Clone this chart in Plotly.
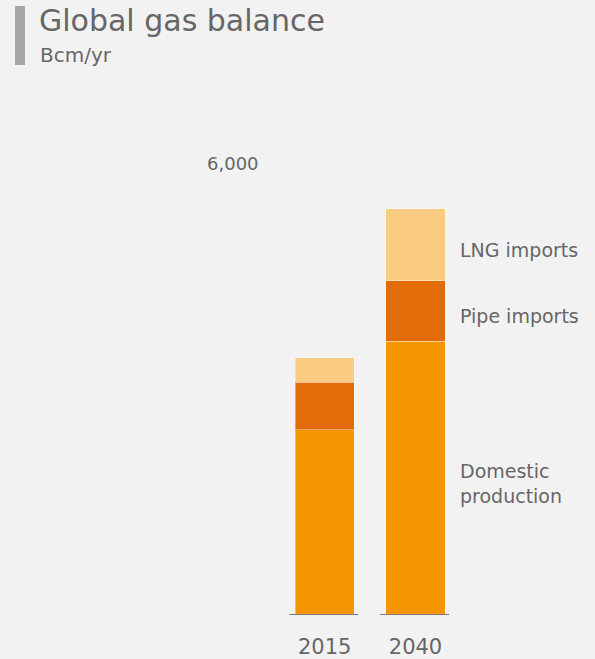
import plotly.graph_objects as go

# Global gas balance, Bcm/yr
years = ["2015", "2040"]
domestic_production = [2465, 3635]
pipe_imports = [629, 810]
lng_imports = [324, 957]
series_names = ["Domestic production", "Pipe imports", "LNG imports"]
series_labels = ["Domestic<br>production", "Pipe imports", "LNG imports"]
series_colors = ["#F59600", "#E36C0A", "#FACB82"]
y_tick_values = [6000]
y_tick_labels = ["6,000"]

W, H = 595, 659
TOP, BOTTOM = 100, 44
plot_h = H - TOP - BOTTOM
Y_MAX = plot_h / 0.07525
BG = "#F2F2F2"
TXT = "#666666"
FONT = "DejaVu Sans"

x_pos = list(range(len(years)))
x_unit = 90.8  # px per category
x0_px = 324.7
x_range = [-x0_px / x_unit, (W - x0_px) / x_unit]


def py(p):
    """pixel row -> paper y"""
    return (H - BOTTOM - p) / plot_h


fig = go.Figure()
values = [domestic_production, pipe_imports, lng_imports]
for name, vals, col in zip(series_names, values, series_colors):
    fig.add_trace(go.Bar(
        x=x_pos, y=vals, name=name, width=0.65,
        marker=dict(color=col, line=dict(color="rgba(255,255,255,0.35)", width=1)),
        hoverinfo="y+name",
    ))

# baseline segment under each bar
shapes = []
for xp in x_pos:
    shapes.append(dict(type="line", xref="x", yref="y", x0=xp - 0.39, x1=xp + 0.37,
                       y0=0, y1=0, line=dict(color="#7F7F7F", width=2)))
# title accent bar
shapes.append(dict(type="rect", xref="paper", yref="paper", x0=15 / W, x1=25 / W,
                   y0=py(65), y1=py(6), fillcolor="#A6A6A6", line=dict(width=0)))

annotations = [
    dict(text="Global gas balance", xref="paper", yref="paper", x=37 / W, y=py(21),
         xanchor="left", yanchor="middle", showarrow=False,
         font=dict(family=FONT, size=30, color=TXT)),
    dict(text="Bcm/yr", xref="paper", yref="paper", x=38 / W, y=py(55),
         xanchor="left", yanchor="middle", showarrow=False,
         font=dict(family=FONT, size=20, color=TXT)),
]
for v, t in zip(y_tick_values, y_tick_labels):
    annotations.append(dict(text=t, xref="paper", yref="y", x=261 / W, y=v,
                            xanchor="right", yanchor="middle", showarrow=False,
                            font=dict(family=FONT, size=18, color=TXT)))

# series labels beside the last bar, centred on its segments
last = len(years) - 1
base = 0
for lab, vals in zip(series_labels, values):
    mid = base + vals[last] / 2
    base += vals[last]
    annotations.append(dict(text=lab, xref="paper", yref="y", x=458 / W, y=mid,
                            xanchor="left", yanchor="middle", showarrow=False, align="left",
                            yshift=-5,
                            font=dict(family=FONT, size=19, color=TXT)))

fig.update_layout(
    width=W, height=H, barmode="stack", showlegend=False,
    paper_bgcolor=BG, plot_bgcolor=BG,
    margin=dict(l=0, r=0, t=TOP, b=BOTTOM),
    xaxis=dict(range=x_range, tickvals=x_pos, ticktext=years, showgrid=False,
               zeroline=False, showline=False, ticks="", ticklabelstandoff=17,
               tickfont=dict(family=FONT, size=21, color=TXT)),
    yaxis=dict(range=[0, Y_MAX], showgrid=False, zeroline=False, showline=False,
               showticklabels=False, ticks=""),
    shapes=shapes, annotations=annotations,
)

fig.write_html("out.html")
